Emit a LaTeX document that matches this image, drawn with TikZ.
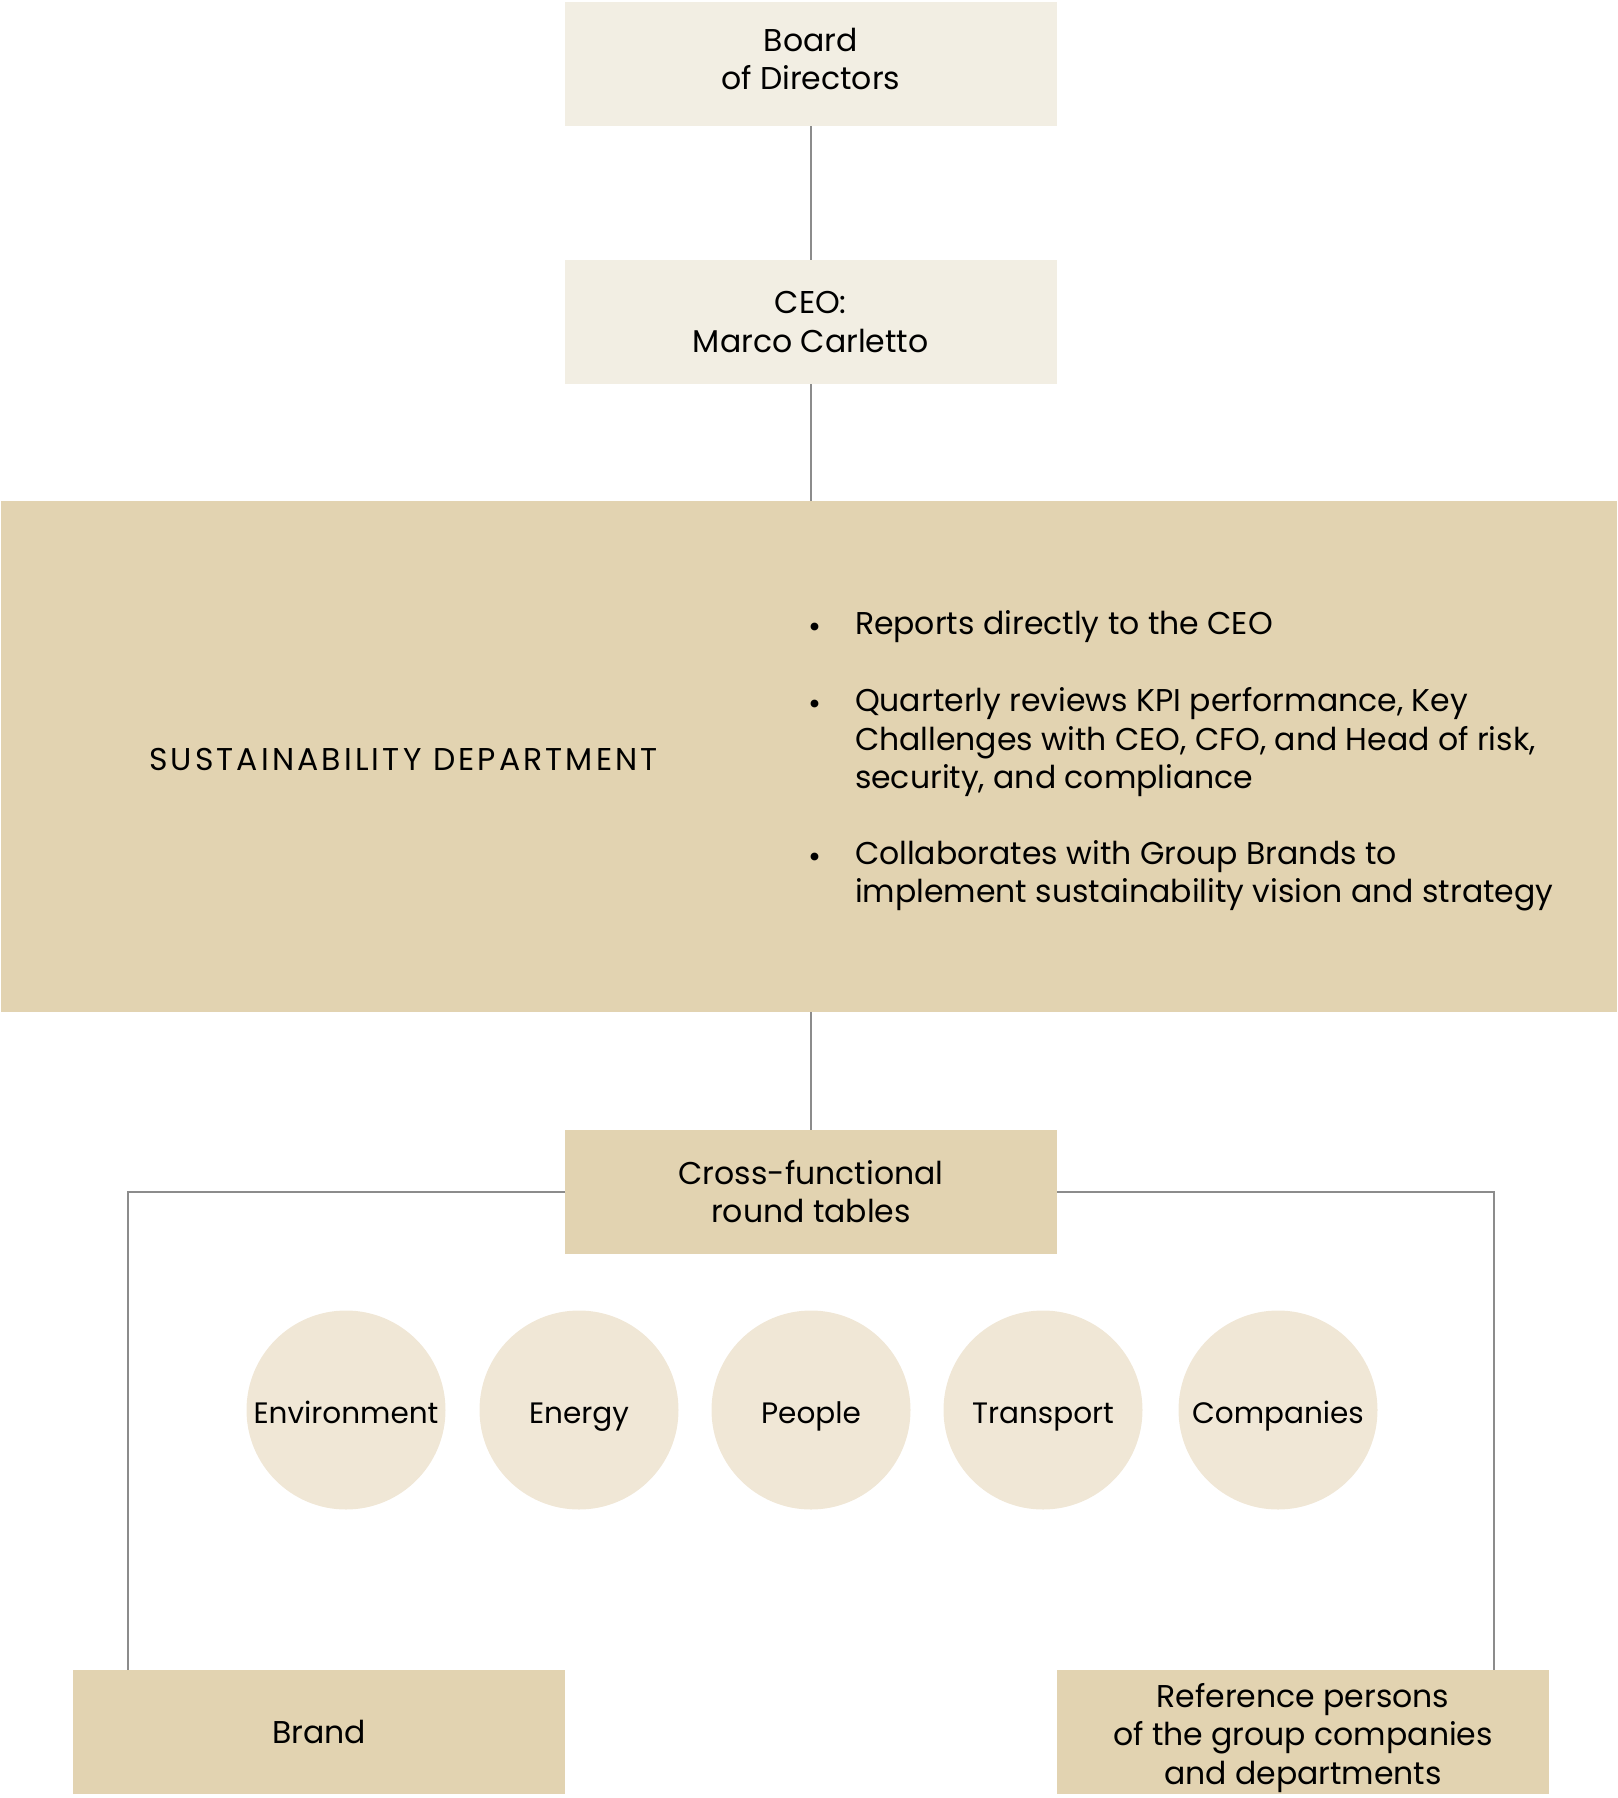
\documentclass[tikz,border=0pt]{standalone}
\usepackage{fontspec}
\setmainfont{Poppins}
\definecolor{lightbox}{HTML}{F2EEE3}
\definecolor{darkbox}{HTML}{E2D3B1}
\definecolor{circfill}{HTML}{F0E7D6}
\definecolor{linegray}{HTML}{8C8C8C}
\begin{document}
\begin{tikzpicture}[x=1pt,y=-1pt,
  every node/.style={inner sep=0pt, outer sep=0pt},
  txt/.style={font=\fontsize{31.5}{38.5}\selectfont, text=black},
  lbox/.style={txt, fill=lightbox, minimum width=492pt, minimum height=124pt, align=center},
  dbox/.style={txt, fill=darkbox, minimum width=492pt, minimum height=124pt, align=center},
  circ/.style={font=\fontsize{29.5}{36}\selectfont, text=black, circle, fill=circfill,
     minimum size=199pt, text height=26pt, text depth=0pt},
  conn/.style={draw=linegray, line width=2pt}]
\useasboundingbox (0,0) rectangle (1617,1798);
\node[lbox, text depth=11pt] (board) at (810.7,64.3) {Board\\of Directors};
\node[lbox] (ceo) at (810.7,322) {CEO:\\Marco Carletto};
\node[dbox, minimum width=1616pt, minimum height=511pt] (sust) at (809,756.5) {};
\node[txt, anchor=west] (sustlabel) at (149,759) {\addfontfeatures{LetterSpace=10}SUSTAINABILITY DEPARTMENT};
\node[dbox] (cross) at (811,1191.5) {Cross-functional\\round tables};
\node[circ] (env) at (346,1410) {Environment};
\node[circ] (energy) at (579,1410) {Energy};
\node[circ] (people) at (811,1410) {People};
\node[circ] (transport) at (1043,1410) {Transport};
\node[circ] (companies) at (1278,1410) {Companies};
\node[dbox] (brand) at (319,1732) {Brand};
\node[dbox, text height=104pt, text depth=0pt] (ref) at (1303,1732) {Reference persons\\of the group companies\\and departments};
% bullets
\node[txt] (b1) at (815,630) {\textbullet};
\node[txt, anchor=north west, align=left] (t1) at (855,610.5) {Reports directly to the CEO};
\node[txt] (b2) at (815,707) {\textbullet};
\node[txt, anchor=north west, align=left] (t2) at (855,687.5) {Quarterly reviews KPI performance, Key\\Challenges with CEO, CFO, and Head of risk,\\security, and compliance};
\node[txt] (b3) at (815,860) {\textbullet};
\node[txt, anchor=north west, align=left] (t3) at (855,840.5) {Collaborates with Group Brands to\\implement sustainability vision and strategy};
% connectors
\coordinate (bl) at (128,1670);
\coordinate (br) at (1494,1670);
\draw[conn] (board.south) -- (ceo.north);
\draw[conn] (ceo.south) -- (sust.north -| ceo.south);
\draw[conn] (sust.south -| cross.north) -- (cross.north);
\draw[conn] (cross.west) -| (bl);
\draw[conn] (cross.east) -| (br);
\end{tikzpicture}
\end{document}
